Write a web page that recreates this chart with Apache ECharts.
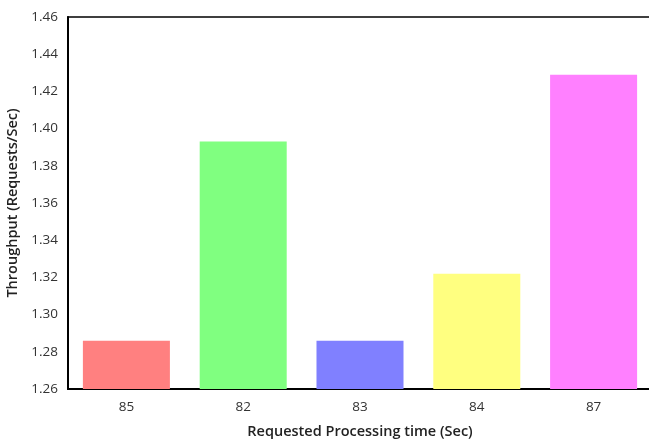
<!DOCTYPE html>
<html>
<head>
<meta charset="utf-8">
<script src="https://cdn.jsdelivr.net/npm/echarts@6/dist/echarts.min.js"></script>
<style>
html,body{margin:0;padding:0;background:#fff;}
#c{width:649px;height:441px;}
</style>
</head>
<body>
<div id="c"></div>
<script>
const categories = ['85', '82', '83', '84', '87'];
const throughput = [1.286, 1.393, 1.286, 1.322, 1.429];
const barColors = ['#FF8080', '#80FF80', '#8080FF', '#FFFF80', '#FF80FF'];
const yTicks = { min: 1.26, max: 1.46, interval: 0.02 };

const chart = echarts.init(document.getElementById('c'), null, { renderer: 'canvas' });
const font = '"Open Sans", "Noto Sans", sans-serif';
chart.setOption({
  animation: false,
  backgroundColor: '#fff',
  grid: {
    left: 68, right: -3, top: 17, bottom: 52,
    outerBoundsMode: 'none', containLabel: false,
    show: true, borderColor: '#000', borderWidth: 1.5, backgroundColor: 'transparent'
  },
  xAxis: {
    type: 'category',
    data: categories,
    name: 'Requested Processing time (Sec)',
    nameLocation: 'middle',
    nameGap: 35,
    nameTextStyle: { fontFamily: font, fontSize: 14.5, fontWeight: 600, color: '#222' },
    axisLine: { lineStyle: { color: '#000', width: 2 } },
    axisTick: { show: false },
    axisLabel: { fontFamily: font, fontSize: 13.5, color: '#333', margin: 11 },
    splitLine: { show: false }
  },
  yAxis: {
    type: 'value',
    min: yTicks.min, max: yTicks.max, interval: yTicks.interval,
    name: 'Throughput (Requests/Sec)',
    nameLocation: 'middle',
    nameGap: 46,
    nameTextStyle: { fontFamily: font, fontSize: 14.5, fontWeight: 600, color: '#222' },
    axisLine: { show: true, lineStyle: { color: '#000', width: 2 } },
    axisTick: { show: false },
    axisLabel: { fontFamily: font, fontSize: 13.5, color: '#333', margin: 10, formatter: v => v.toFixed(2) },
    splitLine: { show: false }
  },
  series: [{
    type: 'bar',
    data: throughput.map((v, i) => ({ value: v, itemStyle: { color: barColors[i] } })),
    barCategoryGap: '25.5%'
  }]
});
</script>
</body>
</html>
